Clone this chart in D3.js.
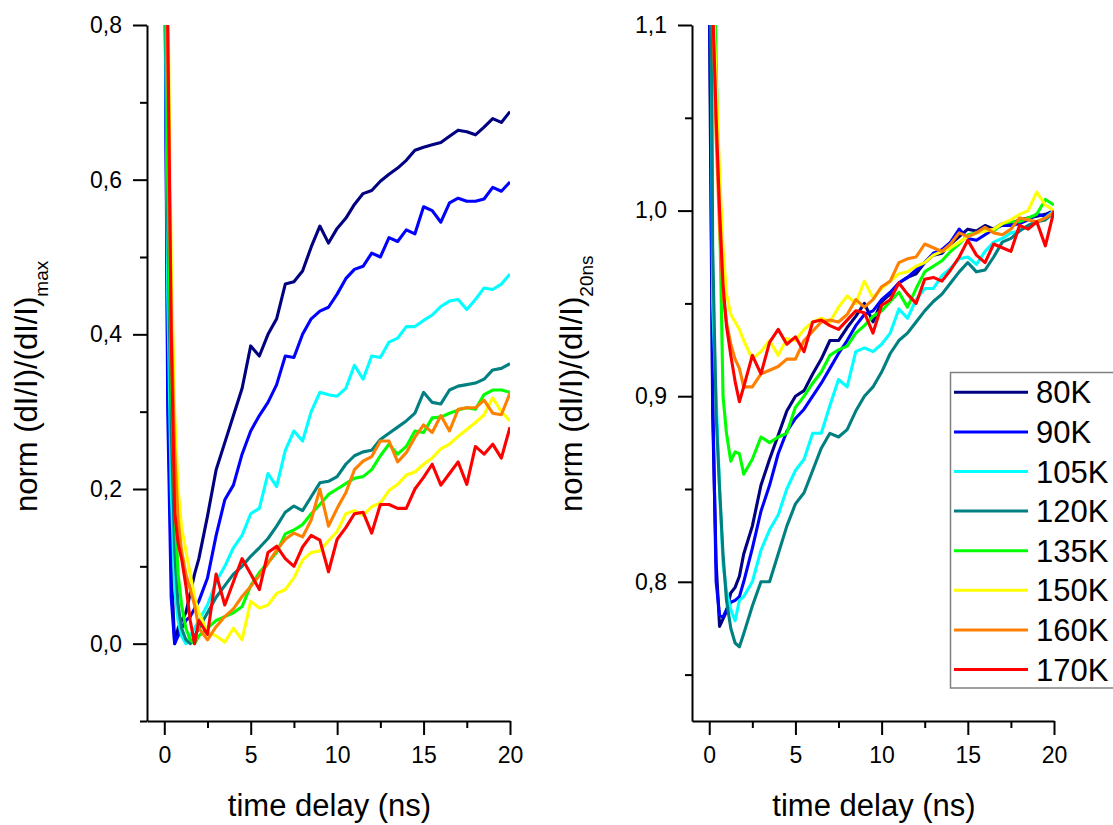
<!DOCTYPE html>
<html><head><meta charset="utf-8">
<script src="https://cdn.jsdelivr.net/npm/d3@7"></script>
<style>
body{margin:0;background:#fff;}
text{font-family:"Liberation Sans",Arial,sans-serif;fill:#000;}
</style></head><body>
<svg id="chart" width="1113" height="825"></svg>
<script>
// ---- data ----
const times = [0, 0.2, 0.4, 0.6, 0.8, 1.0, 1.25, 1.5, 1.75, 2.0,
  2.5, 3.0, 3.5, 4.0, 4.5, 5.0, 5.5, 6.0, 6.5, 7.0,
  7.5, 8.0, 8.5, 9.0, 9.5, 10, 10.5, 11, 11.5, 12,
  12.5, 13, 13.5, 14, 14.5, 15, 15.5, 16, 16.5, 17,
  17.5, 18, 18.5, 19, 19.5, 20];

const seriesLabels = ["80K", "90K", "105K", "120K", "135K", "150K", "160K", "170K"];
const seriesColors = ["#000080", "#0000FF", "#00FFFF", "#008080", "#00FF00", "#FFFF00", "#FF8000", "#FF0000"];

// left panel: norm (dI/I)/(dI/I)max
const left80 = [1.0, 0.35, 0.10, 0.00, 0.02, 0.03, 0.04, 0.065, 0.09, 0.11,
  0.165, 0.225, 0.26, 0.295, 0.33, 0.385, 0.372, 0.40, 0.42, 0.465,
  0.468, 0.482, 0.513, 0.54, 0.518, 0.537, 0.55, 0.568, 0.582, 0.586,
  0.598, 0.607, 0.615, 0.625, 0.638, 0.642, 0.645, 0.648, 0.656, 0.664,
  0.662, 0.658, 0.668, 0.679, 0.674, 0.688];
const left90 = [1.0, 0.30, 0.06, 0.00, 0.01, 0.02, 0.03, 0.035, 0.045, 0.055,
  0.085, 0.14, 0.186, 0.205, 0.245, 0.275, 0.295, 0.312, 0.335, 0.372,
  0.37, 0.40, 0.42, 0.43, 0.435, 0.452, 0.472, 0.484, 0.488, 0.505,
  0.50, 0.525, 0.52, 0.535, 0.53, 0.565, 0.56, 0.545, 0.57, 0.576,
  0.572, 0.572, 0.575, 0.59, 0.585, 0.597];
const left105 = [1.0, 0.45, 0.20, 0.07, 0.03, 0.01, 0.00, 0.01, 0.02, 0.03,
  0.05, 0.08, 0.10, 0.124, 0.14, 0.168, 0.175, 0.22, 0.203, 0.25,
  0.275, 0.262, 0.30, 0.325, 0.322, 0.32, 0.33, 0.36, 0.342, 0.372,
  0.37, 0.39, 0.395, 0.41, 0.41, 0.418, 0.425, 0.436, 0.443, 0.445,
  0.432, 0.445, 0.46, 0.458, 0.465, 0.478];
const left120 = [1.0, 0.55, 0.28, 0.12, 0.05, 0.02, 0.005, 0.00, 0.01, 0.02,
  0.04, 0.06, 0.075, 0.09, 0.10, 0.113, 0.124, 0.136, 0.152, 0.17,
  0.178, 0.172, 0.19, 0.208, 0.21, 0.216, 0.232, 0.243, 0.248, 0.25,
  0.264, 0.272, 0.28, 0.288, 0.298, 0.325, 0.312, 0.31, 0.328, 0.333,
  0.335, 0.337, 0.342, 0.354, 0.356, 0.362];
const left135 = [1.0, 0.60, 0.35, 0.18, 0.09, 0.05, 0.02, 0.005, 0.00, 0.01,
  0.02, 0.03, 0.035, 0.04, 0.048, 0.075, 0.092, 0.105, 0.118, 0.142,
  0.147, 0.154, 0.168, 0.18, 0.193, 0.20, 0.207, 0.214, 0.216, 0.225,
  0.243, 0.258, 0.245, 0.255, 0.275, 0.273, 0.292, 0.293, 0.298, 0.302,
  0.305, 0.303, 0.322, 0.328, 0.328, 0.325];
const left150 = [1.0, 0.85, 0.50, 0.30, 0.20, 0.15, 0.12, 0.09, 0.06, 0.04,
  0.015, 0.01, 0.002, 0.02, 0.005, 0.055, 0.046, 0.05, 0.065, 0.07,
  0.085, 0.108, 0.118, 0.12, 0.133, 0.145, 0.168, 0.172, 0.166, 0.177,
  0.182, 0.198, 0.206, 0.218, 0.222, 0.232, 0.24, 0.252, 0.258, 0.268,
  0.277, 0.286, 0.296, 0.318, 0.30, 0.288];
const left160 = [1.0, 0.75, 0.42, 0.25, 0.16, 0.12, 0.09, 0.07, 0.05, 0.02,
  0.005, 0.022, 0.035, 0.045, 0.061, 0.074, 0.088, 0.104, 0.121, 0.135,
  0.143, 0.138, 0.16, 0.20, 0.152, 0.175, 0.195, 0.225, 0.236, 0.242,
  0.262, 0.262, 0.235, 0.247, 0.267, 0.283, 0.273, 0.295, 0.275, 0.303,
  0.305, 0.305, 0.315, 0.298, 0.296, 0.324];
const left170 = [1.0, 0.80, 0.40, 0.17, 0.13, 0.11, 0.075, 0.03, 0.00, 0.03,
  0.012, 0.09, 0.05, 0.08, 0.11, 0.09, 0.07, 0.118, 0.126, 0.11,
  0.10, 0.125, 0.14, 0.134, 0.093, 0.135, 0.15, 0.168, 0.17, 0.143,
  0.18, 0.18, 0.175, 0.175, 0.20, 0.215, 0.232, 0.205, 0.22, 0.235,
  0.206, 0.255, 0.245, 0.258, 0.24, 0.28];

// right panel: norm (dI/I)/(dI/I)20ns
const right80 = [1.12, 0.89, 0.81, 0.776, 0.78, 0.784, 0.794, 0.797, 0.803, 0.815,
  0.83, 0.852, 0.866, 0.879, 0.892, 0.90, 0.903, 0.912, 0.92, 0.93,
  0.93, 0.937, 0.943, 0.95, 0.94, 0.951, 0.955, 0.961, 0.964, 0.966,
  0.972, 0.976, 0.977, 0.982, 0.986, 0.99, 0.989, 0.992, 0.99, 0.993,
  0.993, 0.995, 0.996, 0.997, 0.998, 1.0];
const right90 = [1.15, 0.90, 0.80, 0.782, 0.781, 0.785, 0.789, 0.79, 0.792, 0.80,
  0.818, 0.838, 0.852, 0.869, 0.881, 0.888, 0.893, 0.90, 0.907, 0.915,
  0.923, 0.93, 0.938, 0.944, 0.946, 0.952, 0.956, 0.961, 0.964, 0.968,
  0.972, 0.977, 0.979, 0.983, 0.99, 0.985, 0.984, 0.987, 0.99, 0.992,
  0.992, 0.993, 0.995, 0.998, 0.997, 1.0];
const right105 = [1.3, 0.95, 0.90, 0.85, 0.81, 0.795, 0.785, 0.779, 0.79, 0.792,
  0.80, 0.817, 0.828, 0.836, 0.85, 0.86, 0.866, 0.88, 0.88, 0.895,
  0.909, 0.905, 0.924, 0.926, 0.924, 0.928, 0.934, 0.947, 0.942, 0.952,
  0.958, 0.958, 0.965, 0.969, 0.974, 0.975, 0.971, 0.978, 0.983, 0.985,
  0.988, 0.989, 0.992, 0.994, 0.996, 1.0];
const right120 = [1.3, 0.98, 0.89, 0.85, 0.815, 0.79, 0.775, 0.767, 0.765, 0.772,
  0.787, 0.80, 0.80, 0.815, 0.83, 0.842, 0.848, 0.86, 0.872, 0.88,
  0.878, 0.882, 0.892, 0.90, 0.905, 0.913, 0.923, 0.93, 0.934, 0.94,
  0.946, 0.951, 0.955, 0.961, 0.967, 0.972, 0.967, 0.968, 0.975, 0.983,
  0.985, 0.989, 0.992, 0.994, 0.995, 0.999];
const right135 = [1.4, 1.20, 1.08, 1.00, 0.90, 0.88, 0.865, 0.87, 0.869, 0.858,
  0.866, 0.878, 0.875, 0.878, 0.88, 0.894, 0.90, 0.907, 0.913, 0.922,
  0.925, 0.927, 0.934, 0.938, 0.943, 0.946, 0.951, 0.956, 0.948, 0.958,
  0.967, 0.97, 0.973, 0.978, 0.982, 0.987, 0.988, 0.99, 0.989, 0.993,
  0.994, 0.994, 0.996, 0.998, 1.006, 1.003];
const right150 = [1.4, 1.12, 1.07, 1.02, 0.98, 0.955, 0.944, 0.94, 0.936, 0.93,
  0.92, 0.924, 0.93, 0.922, 0.931, 0.93, 0.936, 0.94, 0.942, 0.94,
  0.948, 0.954, 0.95, 0.962, 0.953, 0.958, 0.962, 0.966, 0.967, 0.97,
  0.972, 0.976, 0.978, 0.98, 0.983, 0.986, 0.988, 0.989, 0.99, 0.993,
  0.995, 0.998, 1.0, 1.01, 1.003, 1.0];
const right160 = [1.4, 1.11, 1.04, 0.99, 0.955, 0.94, 0.928, 0.92, 0.915, 0.905,
  0.905, 0.912, 0.914, 0.916, 0.92, 0.92, 0.93, 0.935, 0.94, 0.941,
  0.94, 0.944, 0.952, 0.948, 0.952, 0.959, 0.962, 0.972, 0.974, 0.975,
  0.982, 0.98, 0.978, 0.982, 0.988, 0.986, 0.988, 0.991, 0.988, 0.987,
  0.99, 0.996, 0.995, 0.994, 0.996, 0.999];
const right170 = [1.4, 1.11, 1.05, 1.0, 0.96, 0.938, 0.922, 0.908, 0.897, 0.905,
  0.922, 0.912, 0.929, 0.936, 0.928, 0.932, 0.924, 0.94, 0.941, 0.938,
  0.936, 0.941, 0.946, 0.945, 0.934, 0.949, 0.952, 0.961, 0.955, 0.95,
  0.963, 0.964, 0.962, 0.968, 0.975, 0.984, 0.976, 0.972, 0.982, 0.98,
  0.978, 0.992, 0.99, 0.994, 0.981, 1.0];

const leftSeries = [left80, left90, left105, left120, left135, left150, left160, left170];
const rightSeries = [right80, right90, right105, right120, right135, right150, right160, right170];

const xTicks = [0, 5, 10, 15, 20];
const xMinorTicks = [2.5, 7.5, 12.5, 17.5];
const leftYTicks = [0, 0.2, 0.4, 0.6, 0.8];
const leftYMinorTicks = [-0.1, 0.1, 0.3, 0.5, 0.7];
const rightYTicks = [0.8, 0.9, 1.0, 1.1];
const rightYMinorTicks = [0.75, 0.85, 0.95, 1.05];

// ---- drawing ----
const svg = d3.select("#chart");
const fmt = v => d3.format(".1f")(v).replace(".", ",");

function panel(opts) {
  const x = d3.scaleLinear().domain([-1, 20]).range([opts.left, opts.right]);
  const y = d3.scaleLinear().domain(opts.yDomain).range([721, 25]);
  const g = svg.append("g");
  const clipId = "clip" + opts.id;
  svg.append("clipPath").attr("id", clipId).append("rect")
    .attr("x", opts.left).attr("y", 25)
    .attr("width", opts.right - opts.left).attr("height", 721 - 25);

  const line = d3.line().x(d => x(d[0])).y(d => y(d[1]));
  const lg = g.append("g").attr("clip-path", `url(#${clipId})`);
  opts.series.forEach((vals, i) => {
    lg.append("path")
      .datum(times.map((t, k) => [t, vals[k]]))
      .attr("d", line)
      .attr("fill", "none")
      .attr("stroke", seriesColors[i])
      .attr("stroke-width", 3.1)
      .attr("stroke-linejoin", "round");
  });

  // axes
  g.append("g").attr("transform", "translate(0,721)")
    .call(d3.axisBottom(x).tickValues(xTicks).tickSize(14).tickSizeOuter(0).tickPadding(12).tickFormat(d3.format("d")));
  g.append("g").attr("transform", "translate(0,721)")
    .call(d3.axisBottom(x).tickValues(xMinorTicks).tickSize(7).tickSizeOuter(0).tickFormat(""))
    .select(".domain").remove();
  g.append("g").attr("transform", `translate(${opts.left},0)`)
    .call(d3.axisLeft(y).tickValues(opts.yTicks).tickSize(14).tickSizeOuter(0).tickPadding(11).tickFormat(fmt));
  g.append("g").attr("transform", `translate(${opts.left},0)`)
    .call(d3.axisLeft(y).tickValues(opts.yMinor).tickSize(7).tickSizeOuter(0).tickFormat(""))
    .select(".domain").remove();

  g.selectAll(".domain, .tick line").attr("stroke", "#000").attr("stroke-width", 2);
  g.selectAll(".tick text").style("font-size", "23px").style("font-family", '"Liberation Sans", Arial, sans-serif').attr("fill", "#000");

  // x title
  g.append("text")
    .attr("x", (opts.left + opts.right) / 2 + 1).attr("y", 816)
    .attr("text-anchor", "middle").style("font-size", "31px")
    .text("time delay (ns)");

  // y title
  const yt = g.append("text")
    .attr("transform", `translate(${opts.titleX},512) rotate(-90)`)
    .attr("text-anchor", "start").style("font-size", "31px");
  yt.append("tspan").text("norm (dI/I)/(dI/I)");
  yt.append("tspan").attr("dy", 11).style("font-size", "19px").text(opts.sub);
  return {x, y};
}

panel({id: "L", left: 147, right: 510, yDomain: [-0.1, 0.8], series: leftSeries,
  yTicks: leftYTicks, yMinor: leftYMinorTicks, titleX: 37, sub: "max"});
panel({id: "R", left: 692, right: 1054, yDomain: [0.725, 1.1], series: rightSeries,
  yTicks: rightYTicks, yMinor: rightYMinorTicks, titleX: 582, sub: "20ns"});

// legend
const leg = svg.append("g");
leg.append("rect").attr("x", 950.5).attr("y", 372.5).attr("width", 200).attr("height", 315.5)
  .attr("fill", "#fff").attr("stroke", "#808080").attr("stroke-width", 1.5);
seriesLabels.forEach((lab, i) => {
  const yy = 392.3 + 39.6 * i;
  leg.append("line").attr("x1", 954).attr("x2", 1028).attr("y1", yy).attr("y2", yy)
    .attr("stroke", seriesColors[i]).attr("stroke-width", 3);
  leg.append("text").attr("x", 1036).attr("y", yy + 11).style("font-size", "31px").text(lab);
});
</script>
</body></html>
